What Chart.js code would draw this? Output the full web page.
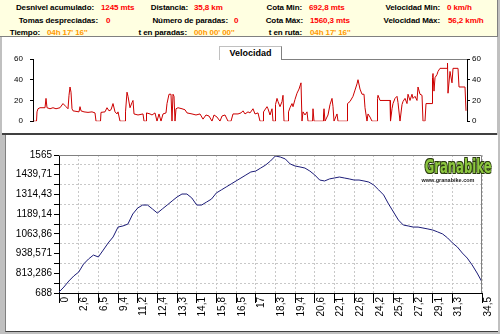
<!DOCTYPE html>
<html><head><meta charset="utf-8">
<script src="https://cdn.jsdelivr.net/npm/chart.js@4"></script>
<style>
html,body{margin:0;padding:0}
body{width:500px;height:334px;overflow:hidden;background:#c0c0c0;position:relative;font-family:"Liberation Sans",Arial,sans-serif}
#hdr{position:absolute;left:0;top:0;width:497px;height:36px;background:#ffffe1;border-right:1px solid #808080;border-bottom:1px solid #808080}
.t{position:absolute;font-weight:bold;font-size:8px;line-height:10px;white-space:nowrap;color:#000;letter-spacing:-0.1px}
.r{color:#ff0000}.o{color:#ff9900}
#pv{position:absolute;left:2px;top:37px;width:495px;height:96px;background:#fff;border-bottom:2px solid #404040}
#pe{position:absolute;left:5px;top:135px;width:492px;height:196px;background:#fff;border-left:1px solid #808080;border-bottom:1px solid #404040}
canvas{position:absolute;left:0}
#cv{top:37px}#ce{top:135px}
#leg{position:absolute;left:219px;top:46px;width:61px;height:13px;background:#fff;border-left:1px solid #c0c0c0;border-top:1px solid #c0c0c0;border-right:1px solid #808080;font-weight:bold;font-size:9px;line-height:13px;text-align:center}
#logo{position:absolute;left:409px;top:157px;width:78px;text-align:center}
#logo .g{display:inline-block;font-family:"DejaVu Sans Condensed","DejaVu Sans",sans-serif;font-weight:bold;font-size:19px;line-height:19px;color:#8cc63f;transform:scale(0.68,1);transform-origin:center;text-shadow:-1px -1px 0 #2a3a10,1px -1px 0 #2a3a10,-1px 1px 0 #2a3a10,1px 1px 0 #2a3a10}
#logo .w{font-size:5.5px;line-height:6px;font-weight:bold;color:#222;text-shadow:0 0 1px #fff}
</style></head>
<body>
<div id="hdr">
<span class="t" style="right:403px;top:3px">Desnivel acumulado:</span><span class="t r" style="left:101px;top:3px">1245 mts</span>
<span class="t" style="right:309px;top:3px">Distancia:</span><span class="t r" style="left:194px;top:3px">35,8 km</span>
<span class="t" style="right:195px;top:3px">Cota Min:</span><span class="t r" style="left:309px;top:3px">692,8 mts</span>
<span class="t" style="right:57px;top:3px">Velocidad Min:</span><span class="t r" style="left:447px;top:3px">0 km/h</span>
<span class="t" style="right:399px;top:16px">Tomas despreciadas:</span><span class="t r" style="left:106px;top:16px">0</span>
<span class="t" style="right:269px;top:16px">Número de paradas:</span><span class="t r" style="left:234px;top:16px">0</span>
<span class="t" style="right:194px;top:16px">Cota Máx:</span><span class="t r" style="left:310px;top:16px">1560,3 mts</span>
<span class="t" style="right:57px;top:16px">Velocidad Máx:</span><span class="t r" style="left:448px;top:16px">56,2 km/h</span>
<span class="t" style="right:457px;top:28px">Tiempo:</span><span class="t o" style="left:47px;top:28px">04h 17' 16''</span>
<span class="t" style="right:310px;top:28px">t en paradas:</span><span class="t o" style="left:194px;top:28px">00h 00' 00''</span>
<span class="t" style="right:195px;top:28px">t en ruta:</span><span class="t o" style="left:310px;top:28px">04h 17' 16''</span>
</div>
<div id="pv"></div>
<div id="pe"></div>
<canvas id="cv" width="500" height="96"></canvas>
<canvas id="ce" width="500" height="196"></canvas>
<div id="leg">Velocidad</div>
<div id="logo"><div class="g">Granabike</div><div class="w">www.granabike.com</div></div>
<script>
// Velocity: sample number (one sample every ~36 s) and speed in km/h
const velMuestra = [0,3.5,4,5,7,12,13,14,17,20,23,27,30,33,35,36,37,38,39,40,43,46,47,48,51,55,59,62,63,67.5,68,72,74,76,78,80,82,84,85,87,92,92.5,94,95,97,99,100,101,105,110,111,113,113.5,117,119,122,124,126,128,130,133,134,136,138,139,140,141,142,143,145,149,152,154,159,163,167,170,173,176,179,181,184,187,189,192,195,198,200,205,208,210,212,215,217,220,222,225,227,230,230.5,234,235,237,239,240,242,242.5,244,245,247,249,250,251,255,255.5,257,259,260,262,264,266,268,269,270,272,274,275,279.5,280,281,290,290.5,291,292,295,297,299,300,301,304,305,314,314.5,317,320,322,324,325,327,329,331,332,334,335,337,339,344,344.5,345,347,357,357.5,359,360,362,364,365,367,369,370,372,374,375,377,379,380,382,384,385,387,389,390,392,393,399,399.5,400,401,402,404,405,407,414,414.5,415,417,419,420,425,426,432,433];
const velKmh = [0,0,9,12,13,13,22,13,12,13,12,13,17,14,12,25,33,28,12,10,9.5,9,14,10,9,8.5,9,8,0,0,8.5,9,13,10,11,17,9,7,9,0,0,9,28,24,13,18,20,7,6,7,0,0,8,7,6,8,0,7,0,7,8,17,26,26,0,26,24,0,12,13,12,11,8,7,6,7,2,6,5,0,6,4,0,5,6,0,0,7,7,8,10,7,9,8,12,7,8,0,0,9,14,12,6,12,0,0,16,22,19,14,19,25,0,0,9,13,17,14,21,27,31,37,0,9,6,9,0,0,12,0,0,6,12,0,6,16,22,14,0,7,0,0,17,19,24,30,36,40,31,26,26,13,0,7,4,0,0,22,25,20,20,0,12,17,22,24,18,0,16,19,22,17,26,20,26,22,24,20,33,26,25,0,0,17,17,42,46,29,42,45,48,51,51,56,27,48,37,51,51,33,33,10];
const velTicks = [0,20,40,60];

// Elevation profile (m): one value every quarter of a tick interval
const elevacion = [694,726,764,796,821,872,904,929,917,961,1006,1044,1107,1114,1126,1190,1228,1247,1247,1222,1196,1222,1247,1273,1298,1317,1317,1292,1247,1247,1266,1285,1324,1343,1362,1381,1400,1419,1438,1457,1463,1482,1501,1527,1559,1552,1540,1508,1495,1489,1482,1463,1438,1406,1400,1413,1419,1425,1419,1413,1406,1406,1400,1393,1374,1343,1311,1254,1203,1152,1120,1114,1107,1107,1101,1095,1088,1076,1063,1038,1006,980,942,910,866,815,758];
const distTickPos = [0,1,2,3,4,5,6,7,8,9,10,11,12,13,14,15,16,17,18,19,20,21.5];
const distLabels = ['0','2,6','6,5','9,4','11,2','12,4','13,3','14,1','15,8','16,5','17','18,3','19,4','20,6','22,1','22,6','24,2','25,4','27,2','29,1','31,3','34,5'];
const elevTicks = [688,813.286,938.571,1063.86,1189.14,1314.43,1439.71,1565];
const elevLabels = ['688','813,286','938,571','1063,86','1189,14','1314,43','1439,71','1565'];

const base = {responsive:false,animation:false,events:[],plugins:{legend:{display:false},tooltip:{enabled:false}}};
const F = '"Liberation Sans", Arial, sans-serif';

const topLine = {id:'topLine',afterDraw(c){const a=c.chartArea,x=c.ctx;x.save();x.strokeStyle='#808080';x.lineWidth=1;x.beginPath();x.moveTo(280,a.top+0.5);x.lineTo(a.right,a.top+0.5);x.stroke();x.restore();}};

const vAxis = (pos)=>({position:pos,min:0,max:60,
  afterBuildTicks(s){s.ticks=velTicks.map(v=>({value:v}));},
  ticks:{font:{family:F,size:8},color:'#000',padding:pos==='left'?7:2},
  grid:{drawOnChartArea:false,tickLength:3,color:'#000'},
  border:{color:'#000'},
  afterFit(s){s.width=33;}});

new Chart(document.getElementById('cv'),{type:'line',
  data:{datasets:[{data:velMuestra.map((m,i)=>({x:m,y:velKmh[i]})),borderColor:'#cc0000',borderWidth:1,pointRadius:0,tension:0,fill:false}]},
  options:Object.assign({},base,{layout:{padding:{top:22,bottom:6,left:0,right:0}},
    scales:{x:{type:'linear',min:0,max:434,display:false},y:vAxis('left'),y2:vAxis('right')}}),
  plugins:[topLine]});

const frame = {id:'frame',afterDraw(c){const a=c.chartArea,x=c.ctx;x.save();x.strokeStyle='#808080';x.lineWidth=1;x.beginPath();x.moveTo(a.left,a.top+0.5);x.lineTo(a.right-0.5,a.top+0.5);x.lineTo(a.right-0.5,a.bottom);x.stroke();x.restore();}};

const yVals = [];
elevTicks.forEach((v,i)=>{yVals.push(v); if(i<elevTicks.length-1) yVals.push((v+elevTicks[i+1])/2);});

new Chart(document.getElementById('ce'),{type:'line',
  data:{datasets:[{data:elevacion.map((e,i)=>({x:i*0.25,y:e})),borderColor:'#1c1c78',borderWidth:1,pointRadius:0,tension:0,fill:false}]},
  options:Object.assign({},base,{layout:{padding:{top:20,bottom:0,left:0,right:18}},
    scales:{
      x:{type:'linear',min:0,max:21.5,
        afterBuildTicks(s){s.ticks=distTickPos.map(v=>({value:v}));},
        ticks:{autoSkip:false,minRotation:90,maxRotation:90,labelOffset:6,padding:-6,font:{family:F,size:10},color:'#000',
          callback:(v,i)=>distLabels[i]},
        grid:{color:'#c8c8c8',tickColor:'#000',tickLength:10,borderDash:[2,2]},
        border:{color:'#000',dash:[2,2]},
        afterFit(s){s.height=38;}},
      y:{min:688,max:1565,
        afterBuildTicks(s){s.ticks=yVals.map(v=>({value:v}));},
        ticks:{autoSkip:false,font:{family:F,size:10},color:'#000',padding:2,
          callback:(v,i)=> i%2===0 ? elevLabels[i/2] : ''},
        grid:{color:(ctx)=> ctx.index%2===1 ? '#c8c8c8' : 'rgba(0,0,0,0)',tickColor:'#000',tickLength:5,borderDash:[2,2]},
        border:{color:'#000',dash:[2,2]},
        afterFit(s){s.width=59;}}
    }}),
  plugins:[frame]});
</script>
</body></html>
